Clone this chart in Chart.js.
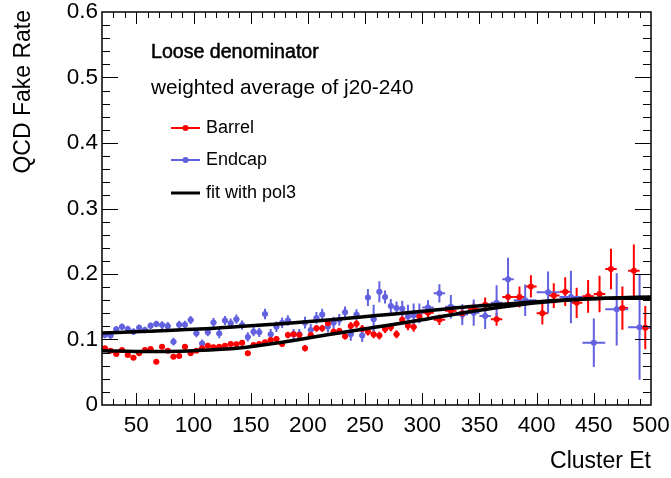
<!DOCTYPE html>
<html>
<head>
<meta charset="utf-8">
<script src="https://cdn.jsdelivr.net/npm/chart.js@4.4.0/dist/chart.umd.min.js"></script>
<style>
    body { margin: 0; background: #fff; }
    #wrap { position: relative; width: 671px; height: 478px; }
</style>
</head>
<body>
<div id="wrap"><canvas id="chartfield" width="671" height="478"></canvas></div>
<script>
// Barrel: 5 GeV bins up to 300, 10 GeV bins above
const barrelX = [
    22.5, 27.5, 32.5, 37.5, 42.5, 47.5, 52.5, 57.5, 62.5, 67.5,
    72.5, 77.5, 82.5, 87.5, 92.5, 97.5, 102.5, 107.5, 112.5, 117.5,
    122.5, 127.5, 132.5, 137.5, 142.5, 147.5, 152.5, 157.5, 162.5, 167.5,
    172.5, 177.5, 182.5, 187.5, 192.5, 197.5, 202.5, 207.5, 212.5, 217.5,
    222.5, 227.5, 232.5, 237.5, 242.5, 247.5, 252.5, 257.5, 262.5, 267.5,
    272.5, 277.5, 282.5, 287.5, 292.5, 297.5,
    305, 315, 325, 335, 345, 355, 365, 375, 385, 395,
    405, 415, 425, 435, 445, 455, 465, 475, 485, 495
];
const barrelY = [
    0.0865, 0.083, 0.078, 0.084, 0.0763, 0.0722, 0.079, 0.084, 0.0855, 0.066,
    0.089, 0.083, 0.0738, 0.0748, 0.089, 0.079, 0.083, 0.0865, 0.0905, 0.088,
    0.089, 0.0905, 0.093, 0.0927, 0.095, 0.079, 0.0916, 0.093, 0.0957, 0.0992,
    0.1008, 0.093, 0.107, 0.108, 0.107, 0.0865, 0.107, 0.117, 0.117, 0.1247,
    0.112, 0.113, 0.105, 0.1206, 0.124, 0.116, 0.112, 0.108, 0.106, 0.116,
    0.1186, 0.108, 0.13, 0.121, 0.119, 0.135,
    0.141, 0.13, 0.144, 0.14, 0.146, 0.153, 0.131, 0.165, 0.165, 0.181,
    0.14, 0.167, 0.173, 0.156, 0.166, 0.1695, 0.2076, 0.148, 0.205, 0.118
];
const barrelErrX = [
    2.5, 2.5, 2.5, 2.5, 2.5, 2.5, 2.5, 2.5, 2.5, 2.5,
    2.5, 2.5, 2.5, 2.5, 2.5, 2.5, 2.5, 2.5, 2.5, 2.5,
    2.5, 2.5, 2.5, 2.5, 2.5, 2.5, 2.5, 2.5, 2.5, 2.5,
    2.5, 2.5, 2.5, 2.5, 2.5, 2.5, 2.5, 2.5, 2.5, 2.5,
    2.5, 2.5, 2.5, 2.5, 2.5, 2.5, 2.5, 2.5, 2.5, 2.5,
    2.5, 2.5, 2.5, 2.5, 2.5, 2.5,
    5, 5, 5, 5, 5, 5, 5, 5, 5, 5,
    5, 5, 5, 5, 5, 5, 5, 5, 5, 5
];
const barrelErrY = [
    0.003, 0.003, 0.003, 0.003, 0.003, 0.003, 0.003, 0.003, 0.003, 0.003,
    0.003, 0.003, 0.003, 0.003, 0.003, 0.003, 0.003, 0.003, 0.003, 0.004,
    0.004, 0.004, 0.004, 0.004, 0.004, 0.004, 0.004, 0.004, 0.004, 0.004,
    0.004, 0.004, 0.005, 0.005, 0.005, 0.005, 0.005, 0.005, 0.005, 0.005,
    0.005, 0.005, 0.005, 0.006, 0.006, 0.006, 0.006, 0.006, 0.006, 0.006,
    0.006, 0.006, 0.007, 0.007, 0.007, 0.007,
    0.008, 0.008, 0.008, 0.009, 0.010, 0.011, 0.010, 0.011, 0.016, 0.017,
    0.017, 0.019, 0.022, 0.023, 0.025, 0.028, 0.031, 0.033, 0.040, 0.033
];

// Endcap: 5 GeV bins up to 300, 10 GeV to 380, 20 GeV above
const endcapX = [
    22.5, 27.5, 32.5, 37.5, 42.5, 47.5, 52.5, 57.5, 62.5, 67.5,
    72.5, 77.5, 82.5, 87.5, 92.5, 97.5, 102.5, 107.5, 112.5, 117.5,
    122.5, 127.5, 132.5, 137.5, 142.5, 147.5, 152.5, 157.5, 162.5, 167.5,
    172.5, 177.5, 182.5, 187.5, 192.5, 197.5, 202.5, 207.5, 212.5, 217.5,
    222.5, 227.5, 232.5, 237.5, 242.5, 247.5, 252.5, 257.5, 262.5, 267.5,
    272.5, 277.5, 282.5, 287.5, 292.5, 297.5,
    305, 315, 325, 335, 345, 355, 365, 375,
    390, 410, 430, 450, 470, 490
];
const endcapY = [
    0.107, 0.106, 0.1155, 0.1196, 0.116, 0.112, 0.118, 0.1145, 0.121, 0.1237,
    0.122, 0.1206, 0.0967, 0.1226, 0.1226, 0.1298, 0.1094, 0.094, 0.111, 0.126,
    0.109, 0.129, 0.125, 0.131, 0.122, 0.104, 0.112, 0.111, 0.139, 0.108,
    0.1196, 0.1257, 0.129, 0.108, 0.108, 0.1257, 0.1145, 0.133, 0.138, 0.1196,
    0.1257, 0.13, 0.1415, 0.108, 0.138, 0.106, 0.164, 0.131, 0.173, 0.165,
    0.151, 0.148, 0.147, 0.135, 0.137, 0.14,
    0.149, 0.1705, 0.15, 0.138, 0.141, 0.136, 0.156, 0.192,
    0.160, 0.172, 0.165, 0.095, 0.146, 0.1186
];
const endcapErrX = [
    2.5, 2.5, 2.5, 2.5, 2.5, 2.5, 2.5, 2.5, 2.5, 2.5,
    2.5, 2.5, 2.5, 2.5, 2.5, 2.5, 2.5, 2.5, 2.5, 2.5,
    2.5, 2.5, 2.5, 2.5, 2.5, 2.5, 2.5, 2.5, 2.5, 2.5,
    2.5, 2.5, 2.5, 2.5, 2.5, 2.5, 2.5, 2.5, 2.5, 2.5,
    2.5, 2.5, 2.5, 2.5, 2.5, 2.5, 2.5, 2.5, 2.5, 2.5,
    2.5, 2.5, 2.5, 2.5, 2.5, 2.5,
    5, 5, 5, 5, 5, 5, 5, 5,
    10, 10, 10, 10, 10, 10
];
const endcapErrY = [
    0.005, 0.005, 0.005, 0.005, 0.005, 0.005, 0.005, 0.005, 0.005, 0.005,
    0.006, 0.006, 0.006, 0.006, 0.006, 0.006, 0.006, 0.006, 0.006, 0.007,
    0.007, 0.007, 0.007, 0.007, 0.007, 0.007, 0.007, 0.007, 0.008, 0.008,
    0.008, 0.008, 0.008, 0.008, 0.008, 0.009, 0.009, 0.009, 0.009, 0.009,
    0.009, 0.009, 0.009, 0.010, 0.008, 0.010, 0.013, 0.022, 0.016, 0.010,
    0.011, 0.010, 0.012, 0.018, 0.018, 0.015,
    0.011, 0.014, 0.018, 0.016, 0.020, 0.020, 0.027, 0.033,
    0.024, 0.032, 0.040, 0.037, 0.055, 0.080
];

const fitX = [20, 60, 100, 140, 180, 220, 260, 300, 340, 380, 420, 460, 500];
const barrelFit = [0.0830, 0.0815, 0.0830, 0.0870, 0.0965, 0.108, 0.119, 0.130, 0.142, 0.152, 0.159, 0.163, 0.163];
const endcapFit = [0.110, 0.1125, 0.1155, 0.120, 0.1245, 0.130, 0.1365, 0.143, 0.150, 0.155, 0.160, 0.163, 0.165];

const xTickLabels = [50, 100, 150, 200, 250, 300, 350, 400, 450, 500];
const yTickLabels = ["0", "0.1", "0.2", "0.3", "0.4", "0.5", "0.6"];

const RED = "#ff0000";
const BLUE = "#6262e0";
const FONT = "'Liberation Sans', Arial, Helvetica, sans-serif";

function toPoints(xs, ys) {
    return xs.map((x, i) => ({ x: x, y: ys[i] }));
}

const errorBars = {
    id: "errorBars",
    beforeDatasetsDraw(chart) {
        const ctx = chart.ctx;
        const xs = chart.scales.x;
        const ys = chart.scales.y;
        const area = chart.chartArea;
        ctx.save();
        ctx.beginPath();
        ctx.rect(area.left, area.top, area.right - area.left, area.bottom - area.top);
        ctx.clip();
        chart.data.datasets.forEach((ds) => {
            if (!ds.errY) return;
            ctx.strokeStyle = ds.borderColor;
            ctx.lineWidth = 2;
            ds.data.forEach((p, i) => {
                const px = xs.getPixelForValue(p.x);
                const py = ys.getPixelForValue(p.y);
                const x0 = xs.getPixelForValue(p.x - ds.errX[i]);
                const x1 = xs.getPixelForValue(p.x + ds.errX[i]);
                const y0 = ys.getPixelForValue(p.y - ds.errY[i]);
                const y1 = ys.getPixelForValue(p.y + ds.errY[i]);
                ctx.beginPath();
                ctx.moveTo(x0, py);
                ctx.lineTo(x1, py);
                ctx.moveTo(px, y0);
                ctx.lineTo(px, y1);
                ctx.stroke();
            });
        });
        ctx.restore();
    },
};

const rootFrame = {
    id: "rootFrame",
    afterDraw(chart) {
        const ctx = chart.ctx;
        const xs = chart.scales.x;
        const ys = chart.scales.y;
        const a = chart.chartArea;
        ctx.save();

        // frame
        ctx.strokeStyle = "#000";
        ctx.lineWidth = 1.5;
        ctx.strokeRect(a.left, a.top, a.right - a.left, a.bottom - a.top);

        // ticks
        ctx.lineWidth = 1;
        ctx.beginPath();
        for (let v = 30; v < 500; v += 10) {
            const px = Math.round(xs.getPixelForValue(v)) + 0.5;
            const len = v % 50 === 0 ? 12 : 6;
            ctx.moveTo(px, a.bottom);
            ctx.lineTo(px, a.bottom - len);
            ctx.moveTo(px, a.top);
            ctx.lineTo(px, a.top + len);
        }
        for (let k = 1; k < 30; k++) {
            const v = k * 0.02;
            const py = Math.round(ys.getPixelForValue(v)) + 0.5;
            const len = k % 5 === 0 ? 16 : 8;
            ctx.moveTo(a.left, py);
            ctx.lineTo(a.left + len, py);
            ctx.moveTo(a.right, py);
            ctx.lineTo(a.right - len, py);
        }
        ctx.stroke();

        // tick labels
        ctx.fillStyle = "#000";
        ctx.font = `22.5px ${FONT}`;
        ctx.textAlign = "center";
        ctx.textBaseline = "middle";
        xTickLabels.forEach((v) => {
            ctx.fillText(String(v), xs.getPixelForValue(v), 426);
        });
        ctx.textAlign = "right";
        yTickLabels.forEach((t) => {
            ctx.fillText(t, 98, ys.getPixelForValue(parseFloat(t)));
        });

        // axis titles
        ctx.font = `23px ${FONT}`;
        ctx.textAlign = "right";
        ctx.fillText("Cluster Et", a.right, 462);
        ctx.save();
        ctx.translate(24, 10);
        ctx.rotate(-Math.PI / 2);
        ctx.fillText("QCD Fake Rate", 0, 0);
        ctx.restore();

        // labels
        ctx.textAlign = "left";
        ctx.font = `19.6px ${FONT}`;
        ctx.strokeStyle = "#000";
        ctx.lineWidth = 0.5;
        ctx.fillText("Loose denominator", 151, 53);
        ctx.strokeText("Loose denominator", 151, 53);
        ctx.font = `20.8px ${FONT}`;
        ctx.fillText("weighted average of j20-240", 151, 88.5);

        // legend
        const entries = [
            { text: "Barrel", color: RED, y: 128, dot: true, w: 2 },
            { text: "Endcap", color: BLUE, y: 160, dot: true, w: 2 },
            { text: "fit with pol3", color: "#000", y: 193, dot: false, w: 3 },
        ];
        ctx.font = `18px ${FONT}`;
        entries.forEach((e) => {
            ctx.strokeStyle = e.color;
            ctx.lineWidth = e.w;
            ctx.beginPath();
            ctx.moveTo(171, e.y);
            ctx.lineTo(200, e.y);
            ctx.stroke();
            if (e.dot) {
                ctx.fillStyle = e.color;
                ctx.beginPath();
                ctx.arc(185.5, e.y, 3, 0, Math.PI * 2);
                ctx.fill();
            }
            ctx.fillStyle = "#000";
            ctx.fillText(e.text, 206, e.y);
        });

        ctx.restore();
    },
};

const chart = new Chart(document.querySelector("#chartfield"), {
    type: "scatter",
    data: {
        datasets: [
            {
                label: "Barrel fit",
                data: toPoints(fitX, barrelFit),
                showLine: true,
                borderColor: "#000",
                borderWidth: 3.5,
                pointRadius: 0,
                cubicInterpolationMode: "monotone",
            },
            {
                label: "Endcap fit",
                data: toPoints(fitX, endcapFit),
                showLine: true,
                borderColor: "#000",
                borderWidth: 3.5,
                pointRadius: 0,
                cubicInterpolationMode: "monotone",
            },
            {
                label: "Barrel",
                data: toPoints(barrelX, barrelY),
                errX: barrelErrX,
                errY: barrelErrY,
                borderColor: RED,
                backgroundColor: RED,
                pointRadius: 3,
                pointBorderWidth: 0,
            },
            {
                label: "Endcap",
                data: toPoints(endcapX, endcapY),
                errX: endcapErrX,
                errY: endcapErrY,
                borderColor: BLUE,
                backgroundColor: BLUE,
                pointRadius: 3,
                pointBorderWidth: 0,
            },
        ],
    },
    options: {
        responsive: false,
        animation: false,
        layout: { padding: { left: 102, top: 12, right: 20, bottom: 73 } },
        plugins: { legend: { display: false }, tooltip: { enabled: false } },
        scales: {
            x: { type: "linear", min: 20, max: 500, display: false },
            y: { type: "linear", min: 0, max: 0.6, display: false },
        },
    },
    plugins: [errorBars, rootFrame],
});
</script>
</body>
</html>
